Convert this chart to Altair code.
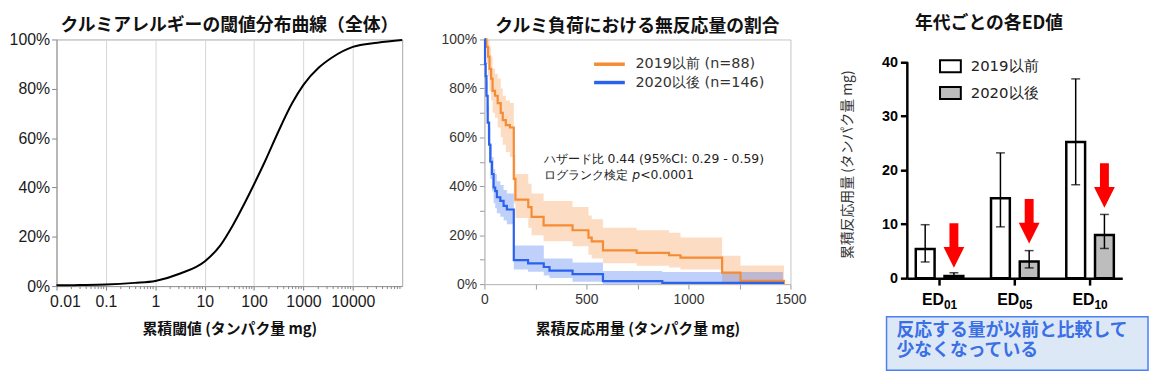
import altair as alt
import pandas as pd

FONT_JP = "Noto Sans CJK JP"
FONT_LAT = "Liberation Sans"

# ---------------- Panel 1: threshold distribution curve ----------------
curve_dose = [0.01, 0.03, 0.1, 0.38, 1, 3.2, 10, 20.4, 37, 67, 100, 166, 316, 585,
              1000, 2050, 3800, 10000, 31600, 100000]
curve_pct = [0.3, 0.4, 0.6, 1.3, 2.1, 5.1, 10, 16.3, 24.6, 34.3, 41.3, 50.5, 63, 74,
             81.6, 88.6, 92.7, 97, 98.7, 99.8]
log_ticks = [0.01, 0.1, 1, 10, 100, 1000, 10000]
minor_ticks = [m * d for d in log_ticks for m in range(2, 10)]
pct_ticks = [0, 20, 40, 60, 80, 100]

# ---------------- Panel 2: Kaplan-Meier ----------------
g19 = "2019以前 (n=88)"
g20 = "2020以後 (n=146)"
o_mg = [0, 10, 18, 25, 33, 40, 52, 65, 80, 90, 105, 125, 144, 152, 215, 231, 290,
        432, 510, 526, 581, 746, 905, 961, 1165, 1255, 1468]
o_s = [100, 97, 93, 88, 84, 79, 77, 74, 70, 67, 65, 64, 43, 34.5, 31.5, 27.5, 24,
       22, 19, 17.5, 13.8, 12.8, 11.8, 10.8, 4.7, 1.3, 0]
o_lo = [100, 90, 85, 79, 75, 70, 68, 64, 60, 57, 54, 52, 33, 27, 23, 20, 17.5,
        15.5, 12, 10.5, 8.5, 7.5, 6.8, 6.0, 0.5, 0, 0]
o_hi = [100, 100, 100, 97, 93, 88, 86, 84, 80, 77, 75, 74, 53, 45, 41, 37, 34,
        31.5, 28, 26.5, 23, 22, 21, 19, 11.6, 7.6, 0]
b_mg = [0, 3, 6, 10, 16, 23, 29, 37, 45, 53, 61, 78, 94, 110, 144, 214, 291, 319,
        432, 581, 872, 1463]
b_s = [100, 90, 85, 77, 66, 57, 50, 45, 39.5, 38, 35.5, 34, 32, 30.5, 9.8, 8.5, 7,
       5.5, 4.1, 1.2, 0.5, 0]
b_lo = [100, 85, 79, 70, 59, 50, 43, 38, 33, 31, 29, 27.5, 26, 24.5, 6, 5, 3.5,
        2.5, 1, 0, 0, 0]
b_hi = [100, 95, 90, 83, 73, 64, 57, 52, 47, 45, 42, 40.5, 38.5, 37, 15.8, 15.8,
        10.5, 10.5, 8.8, 5.4, 4.9, 0]
km_x_ticks = [0, 250, 500, 750, 1000, 1250, 1500]
km_y_ticks = [0, 10, 20, 30, 40, 50, 60, 70, 80, 90, 100]
hz_text = "ハザード比 0.44 (95%CI: 0.29 - 0.59)"
lr_text = "ログランク検定"
p_text = "p"
pv_text = "<0.0001"
ann_mg = 290
ann_y1 = 51
ann_y2 = 44.5

# ---------------- Panel 3: ED values ----------------
ed_groups = ["ED01", "ED05", "ED10"]
ed_main = ["ED", "ED", "ED"]
ed_sub = ["01", "05", "10"]
periods = ["2019以前", "2020以後"]
val_2019 = [5.4, 14.8, 25.2]
lo_2019 = [3.0, 9.5, 17.3]
hi_2019 = [9.9, 23.2, 36.9]
val_2020 = [0.4, 3.1, 8.0]
lo_2020 = [0.2, 1.9, 5.5]
hi_2020 = [1.0, 5.1, 11.8]
arrow_top = [10.2, 14.7, 21.3]
arrow_tip = [1.9, 6.4, 13.0]
ed_ticks = [0, 10, 20, 30, 40]
note_text = "反応する量が以前と比較して\n少なくなっている"

# =====================================================================
W1, H1 = 349, 249
df1 = pd.DataFrame({"dose": curve_dose, "pct": curve_pct})
dfm = pd.DataFrame({"dose": minor_ticks})


def X1():
    return alt.X("dose:Q",
                 scale=alt.Scale(type="log", domain=[0.01, 100000], nice=False),
                 axis=alt.Axis(values=log_ticks, format="~g", labelFont=FONT_LAT,
                               labelFontSize=16, labelColor="#1a1a1a",
                               labelFlush=True, labelFlushOffset=7, labelPadding=4,
                               tickSize=4, tickColor="#777", domainColor="#999",
                               grid=True, gridColor="#d6d6d6",
                               title="累積閾値 (タンパク量 mg)", titleFont=FONT_JP,
                               titleFontSize=15, titleFontWeight="bold",
                               titleColor="#111", titlePadding=12))


y1 = alt.Y("pct:Q", scale=alt.Scale(domain=[0, 100], nice=False),
           axis=alt.Axis(values=pct_ticks, labelExpr="datum.value + '%'",
                         labelFont=FONT_LAT, labelFontSize=16, labelColor="#1a1a1a",
                         tickSize=5, tickColor="#888", domainColor="#999",
                         grid=False, title=None, minExtent=47, maxExtent=47,
                         labelPadding=2))

curve = alt.Chart(df1).mark_line(color="black", strokeWidth=2,
                                 interpolate="monotone").encode(x=X1(), y=y1)
minor = alt.Chart(dfm).mark_rule(color="#888", strokeWidth=1).encode(
    x=X1(), y=alt.value(H1), y2=alt.value(H1 + 3))

p1 = alt.layer(curve, minor).properties(
    width=W1, height=H1,
    view=alt.ViewBackground(stroke="#a8a8a8", strokeWidth=1),
    title=alt.TitleParams("クルミアレルギーの閾値分布曲線（全体）", font=FONT_JP,
                          fontSize=18, fontWeight="bold", color="#111",
                          anchor="middle", frame="group", offset=-3))

# =====================================================================
W2, H2 = 309, 247
km = pd.concat([
    pd.DataFrame({"grp": g19, "mg": o_mg, "s": o_s, "lo": o_lo, "hi": o_hi}),
    pd.DataFrame({"grp": g20, "mg": b_mg, "s": b_s, "lo": b_lo, "hi": b_hi}),
])
color2 = alt.Scale(domain=[g19, g20], range=["#f58b34", "#2a62ee"])
legend2 = alt.Legend(title=None, orient="none", legendX=116.75, legendY=15.5,
                     symbolType="M-2,0L2,0", symbolSize=240, symbolStrokeWidth=3.5,
                     symbolOpacity=1, labelFont="DejaVu Sans", labelFontSize=14.5,
                     labelColor="#333", labelOffset=16.75, rowPadding=1.5)


def X2(f="mg"):
    return alt.X(f + ":Q", scale=alt.Scale(domain=[0, 1500], nice=False),
                 axis=alt.Axis(values=km_x_ticks, format="d",
                               labelExpr="datum.value % 500 == 0 ? datum.label : ''",
                               labelFont=FONT_LAT, labelFontSize=14, labelColor="#333",
                               labelFlush=False,
                               tickSize=5, tickColor="#999", domainColor="#bbb",
                               labelPadding=4, grid=False,
                               title="累積反応用量 (タンパク量 mg)", titleFont=FONT_JP,
                               titleFontSize=15, titleFontWeight="bold",
                               titleColor="#111", titlePadding=15))


def Y2(f="s"):
    return alt.Y(f + ":Q", scale=alt.Scale(domain=[0, 100], nice=False),
                 axis=alt.Axis(values=km_y_ticks,
                               labelExpr="datum.value % 20 == 0 ? datum.value + '%' : ''",
                               labelFont=FONT_LAT, labelFontSize=14, labelColor="#333",
                               tickSize=5, tickColor="#999", domainColor="#bbb",
                               grid=False, title=None, minExtent=44, maxExtent=44,
                               labelPadding=3))


bands = alt.Chart(km).mark_area(interpolate="step-after", fillOpacity=0.3).encode(
    x=X2(), y=Y2("lo"), y2="hi:Q",
    color=alt.Color("grp:N", scale=color2, legend=legend2))
lines = alt.Chart(km).mark_line(interpolate="step-after", strokeWidth=2.2).encode(
    x=X2(), y=Y2("s"),
    color=alt.Color("grp:N", scale=color2, legend=legend2))


def ann(yv, txt, dx=0, style="normal"):
    return alt.Chart(pd.DataFrame({"mg": [ann_mg], "s": [yv], "t": [txt]})).mark_text(
        align="left", baseline="middle", font="DejaVu Sans", fontSize=12.5,
        fontStyle=style, dx=dx, color="#222").encode(x=X2(), y=Y2(), text="t:N")


ann1 = ann(ann_y1, hz_text)
ann2 = ann(ann_y2, lr_text)
ann3 = ann(ann_y2, p_text, dx=89.5, style="italic")
ann4 = ann(ann_y2, pv_text, dx=97.5)

p2 = alt.layer(bands, lines, ann1, ann2, ann3, ann4).properties(
    width=W2, height=H2,
    view=alt.ViewBackground(stroke="#c4c4c4", strokeWidth=1),
    title=alt.TitleParams("クルミ負荷における無反応量の割合", font=FONT_JP,
                          fontSize=18, fontWeight="bold", color="#111",
                          anchor="middle", frame="group", offset=-3))

# =====================================================================
W3, H3 = 217, 241
bars_df = pd.DataFrame({
    "group": ed_groups * 2,
    "period": [periods[0]] * 3 + [periods[1]] * 3,
    "value": val_2019 + val_2020,
    "lo": lo_2019 + lo_2020,
    "hi": hi_2019 + hi_2020,
})
arrow_df = pd.DataFrame({
    "group": ed_groups,
    "period": [periods[1]] * 3,
    "mid": [(a + b) / 2 for a, b in zip(arrow_top, arrow_tip)],
})
lab_df = pd.DataFrame({"group": ed_groups, "main": ed_main, "sub": ed_sub})
yaxis_df = pd.DataFrame({"y0": [ed_ticks[0]], "y1": [ed_ticks[-1]]})
YT3 = "累積反応用量 (タンパク量 mg)"


def X3():
    return alt.X("group:N", sort=ed_groups,
                 scale=alt.Scale(paddingInner=0.368, paddingOuter=0.112),
                 axis=alt.Axis(labels=False, title=None, ticks=True, tickSize=7,
                               tickWidth=2.5, tickColor="black", domainColor="black",
                               domainWidth=2.5, grid=False))


def XO():
    return alt.XOffset("period:N", sort=periods,
                       scale=alt.Scale(paddingInner=0.345, paddingOuter=0))


def Y3(f):
    return alt.Y(f + ":Q", scale=alt.Scale(domain=[0, 44.2], nice=False),
                 title=YT3,
                 axis=alt.Axis(values=ed_ticks, labelFont=FONT_LAT, labelFontSize=14.5,
                               labelFontWeight="bold", labelColor="black",
                               tickSize=7, tickWidth=2.5, tickColor="black",
                               domain=False, grid=False, labelPadding=3,
                               minExtent=28, maxExtent=28, titleFont=FONT_JP,
                               titleFontSize=14, titleFontWeight="normal",
                               titleColor="#333", titlePadding=25, titleY=126))


ARROW = "M-0.45,-2.25L0.45,-2.25L0.45,0.15L1.05,0.15L0,2.25L-1.05,0.15L-0.45,0.15Z"
RECT = "M-1.75,-1L1.75,-1L1.75,1L-1.75,1Z"

bars = alt.Chart(bars_df).mark_bar(stroke="black", strokeWidth=2.5).encode(
    x=X3(), xOffset=XO(), y=Y3("value"),
    fill=alt.Fill("period:N", sort=periods,
                  scale=alt.Scale(domain=periods, range=["white", "#bdbdbd"]),
                  legend=alt.Legend(title=None, orient="none", legendX=36,
                                    legendY=19.5, symbolType=RECT, symbolSize=144,
                                    symbolStrokeColor="black", symbolStrokeWidth=2,
                                    labelFont="DejaVu Sans", labelFontSize=15,
                                    labelColor="#222", labelOffset=13,
                                    rowPadding=6)))
err = alt.Chart(bars_df).mark_rule(color="black", strokeWidth=1.5).encode(
    x=X3(), xOffset=XO(), y=Y3("lo"), y2="hi:Q")
cap_hi = alt.Chart(bars_df).mark_tick(color="black", thickness=1.5, size=9).encode(
    x=X3(), xOffset=XO(), y=Y3("hi"))
cap_lo = alt.Chart(bars_df).mark_tick(color="black", thickness=1.5, size=9).encode(
    x=X3(), xOffset=XO(), y=Y3("lo"))
arrows = alt.Chart(arrow_df).mark_point(shape=ARROW, filled=True, fill="#ff0000",
                                        size=400, opacity=1, strokeWidth=0).encode(
    x=X3(), xOffset=XO(), y=Y3("mid"))
yline = alt.Chart(yaxis_df).mark_rule(color="black", strokeWidth=2.5).encode(
    x=alt.value(0), y=Y3("y0"), y2="y1:Q")
lab_main = alt.Chart(lab_df).mark_text(align="right", baseline="alphabetic", dx=4.5,
                                       font=FONT_LAT, fontSize=16, fontWeight="bold",
                                       color="black").encode(
    x=X3(), y=alt.value(268), text="main:N")
lab_sub = alt.Chart(lab_df).mark_text(align="left", baseline="alphabetic", dx=4.5,
                                      font=FONT_LAT, fontSize=12, fontWeight="bold",
                                      color="black").encode(
    x=X3(), y=alt.value(272), text="sub:N")
box = alt.Chart(pd.DataFrame({"k": [0]})).mark_rect(
    fill="#dde8f6", stroke="#4a7ff5", strokeWidth=1.5).encode(
    x=alt.value(-21), x2=alt.value(243), y=alt.value(280), y2=alt.value(334))
note = alt.Chart(pd.DataFrame({"t": [note_text]})).mark_text(
    align="left", baseline="middle", lineBreak="\n", lineHeight=21, font=FONT_JP,
    fontSize=18, fontWeight="bold", color="#3a6fe6").encode(
    x=alt.value(-11), y=alt.value(294), text="t:N")

p3 = alt.layer(bars, err, cap_hi, cap_lo, arrows, yline, lab_main, lab_sub, box, note).properties(
    width=W3, height=H3,
    view=alt.ViewBackground(stroke="transparent"),
    title=alt.TitleParams("年代ごとの各ED値", font=FONT_JP, fontSize=18,
                          fontWeight="bold", color="#111", anchor="middle",
                          frame="group", offset=7, dx=-26))

chart = alt.hconcat(p1, p2, p3, spacing=33).resolve_scale(
    color="independent", fill="independent").properties(
    padding={"left": 0, "top": 4, "right": 0, "bottom": 0})

chart.save("out.html", embed_options={"renderer": "svg", "actions": False})
